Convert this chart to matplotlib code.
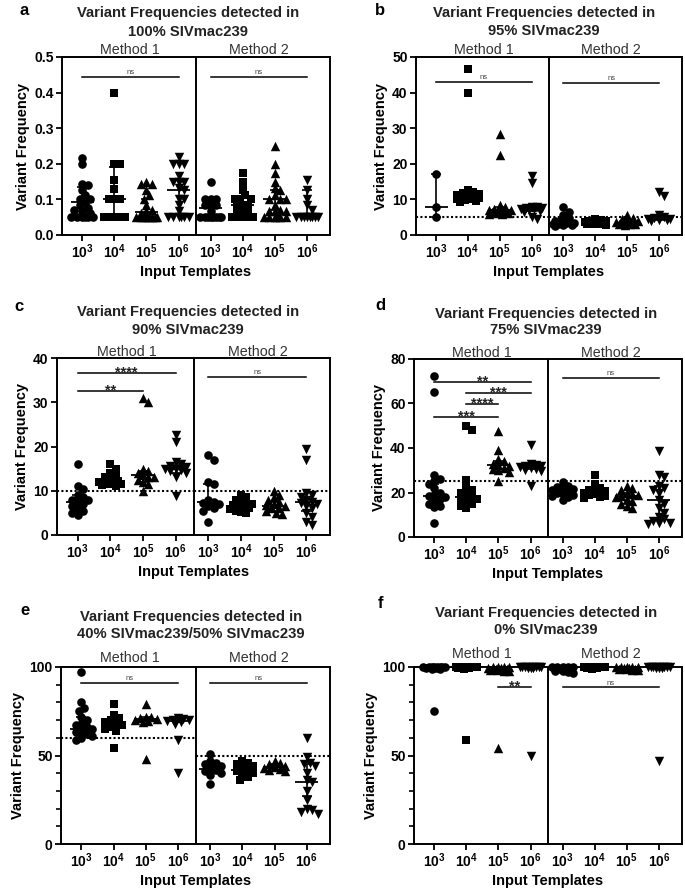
import numpy as np
import matplotlib.pyplot as plt

plt.rcParams['font.family'] = ['Liberation Sans', 'DejaVu Sans']
plt.rcParams['mathtext.fontset'] = 'custom'
plt.rcParams['mathtext.rm'] = 'Liberation Sans'
plt.rcParams['mathtext.bf'] = 'Liberation Sans:bold'

W, H = 685, 893

# x categories: input templates for Method 1 then Method 2
powers = [3, 4, 5, 6, 3, 4, 5, 6]
methods = ['Method 1', 'Method 2']
markers = ['o', 's', '^', 'v', 'o', 's', '^', 'v']

# ---- panel a: 100% SIVmac239
a_vals = [
    [0.217, 0.2, 0.143, 0.14, 0.125, 0.111, 0.1, 0.1, 0.091, 0.083, 0.077, 0.071, 0.067, 0.063, 0.05, 0.05, 0.05, 0.05, 0.05, 0.05],
    [0.4, 0.2, 0.2, 0.154, 0.13, 0.1, 0.1, 0.1, 0.05, 0.05, 0.05, 0.05, 0.05, 0.05, 0.05, 0.05],
    [0.15, 0.143, 0.143, 0.125, 0.111, 0.1, 0.083, 0.071, 0.067, 0.063, 0.05, 0.05, 0.05, 0.05, 0.05, 0.05, 0.05, 0.05],
    [0.22, 0.2, 0.2, 0.2, 0.167, 0.15, 0.15, 0.15, 0.133, 0.125, 0.1, 0.1, 0.083, 0.067, 0.05, 0.05, 0.05, 0.05, 0.05, 0.05],
    [0.15, 0.1, 0.1, 0.1, 0.083, 0.083, 0.083, 0.067, 0.05, 0.05, 0.05, 0.05, 0.05, 0.05, 0.05, 0.05],
    [0.175, 0.15, 0.125, 0.111, 0.1, 0.1, 0.1, 0.083, 0.083, 0.083, 0.067, 0.067, 0.067, 0.05, 0.05, 0.05, 0.05, 0.05, 0.05, 0.05],
    [0.25, 0.2, 0.175, 0.15, 0.133, 0.125, 0.111, 0.1, 0.1, 0.1, 0.083, 0.071, 0.067, 0.067, 0.067, 0.05, 0.05, 0.05, 0.05, 0.05, 0.05],
    [0.155, 0.125, 0.1, 0.083, 0.071, 0.05, 0.05, 0.05, 0.05, 0.05, 0.05, 0.05, 0.05],
]
a_mid = [0.093, 0.1, 0.065, 0.125, 0.075, 0.083, 0.1, 0.058]
a_lo = [0.05, 0.05, 0.05, 0.06, 0.05, 0.05, 0.07, 0.05]
a_hi = [0.135, 0.19, 0.1, 0.155, 0.1, 0.11, 0.125, 0.125]
a_sig = [(0, 3, 0.445, 'ns'), (4, 7, 0.445, 'ns')]
a_ref = [None, None]

# ---- panel b: 95% SIVmac239
b_vals = [
    [17, 8, 5],
    [46.5, 40, 12.5, 12.2, 11.8, 11.5, 11.2, 11, 10.8, 10.5, 10.3, 10, 10, 9.8, 9.5, 9.2],
    [28.5, 22.5, 8.5, 7.8, 7.3, 7, 7, 6.8, 6.7, 6.5, 6.3, 6.2, 6, 6],
    [16.5, 14.5, 8, 7.8, 7.6, 7.5, 7.3, 7.2, 7, 6.8, 6.5, 5, 4.5],
    [7.8, 6.5, 5.5, 4.8, 4, 3.8, 3.5, 3.3, 3, 3, 2.8, 2.8, 2.6],
    [4.5, 4.2, 4, 3.8, 3.6, 3.5, 3.4, 3.3, 3.2, 3, 3, 2.9],
    [5.5, 4.8, 4.5, 4, 3.8, 3.6, 3.5, 3.3, 3.2, 3, 3, 2.9],
    [12, 11, 5.5, 5, 4.8, 4.6, 4.5, 4.3, 4.2, 4],
]
b_mid = [8, 10.5, 7, 7.5, 3.5, 3.5, 3.5, 4.5]
b_lo = [5, 10, 6.3, 6.8, 3, 3.2, 3.2, 4.2]
b_hi = [17, 11.8, 7.8, 7.8, 4.8, 3.8, 4, 5]
b_sig = [(0, 3, 43, 'ns'), (4, 7, 42.8, 'ns')]
b_ref = [5, 5]

# ---- panel c: 90% SIVmac239
c_vals = [
    [16, 11, 10.5, 9, 8.5, 8, 7.8, 7.5, 7, 6.5, 6, 5.5, 5, 4.5],
    [16, 15, 14, 13.5, 13, 12.5, 12.3, 12, 12, 11.8, 11.5, 11.5, 11.2, 11],
    [31, 30, 15, 14.5, 14, 13.5, 13, 13, 12.5, 12, 11.5, 10],
    [22.5, 21, 16.5, 16, 15.5, 15.3, 15, 15, 14.8, 14.5, 14, 13, 8.8],
    [18, 17, 12, 11.5, 8, 7.5, 7.3, 7, 6.5, 6, 5.5, 3],
    [9, 8.5, 8, 7.5, 7.2, 7, 6.8, 6.5, 6.2, 6, 5.8, 5.5, 5.2, 5],
    [10, 9, 8.5, 8, 7.5, 7, 6.8, 6.5, 6.2, 6, 5.5, 5, 4.8],
    [19.5, 17, 9.5, 9, 8.5, 8, 7.5, 7.2, 7, 6.5, 6, 5, 4, 3, 2.3],
]
c_mid = [7.5, 12, 13.5, 15, 7.5, 6.5, 6.5, 7.5]
c_lo = [6, 11.5, 12, 14, 6.5, 6, 5.5, 5.5]
c_hi = [9, 13, 14.5, 16, 11.5, 7.5, 7.5, 8.5]
c_sig = [(0, 3, 36.5, '****'), (0, 2, 32.5, '**'), (4, 7, 35.8, 'ns')]
c_ref = [10, 10]

# ---- panel d: 75% SIVmac239
d_vals = [
    [72.5, 65, 28, 26, 25, 24, 22, 20, 19, 18.5, 18, 17, 16, 15, 14, 13.5, 6.5],
    [50, 48, 25.5, 22, 21, 20, 19, 18, 17.5, 17, 16, 15, 14, 13],
    [47.5, 39, 35, 34, 33, 32.5, 32, 31, 30.5, 30, 29, 25],
    [41.5, 33, 32.5, 32, 31.8, 31.5, 31, 30.5, 30, 29.5, 23],
    [24.5, 23, 22.5, 22, 21.5, 21, 20.5, 20, 19.5, 19, 18.5, 18, 16.5],
    [28, 24, 22, 21.5, 21, 20.5, 20, 20, 19.5, 19, 18.5, 18, 17.5],
    [23, 22, 21, 20, 19.5, 19, 18.5, 18, 17, 16, 15, 14, 13],
    [38.5, 28, 27, 23, 22, 21, 20, 16.5, 15, 13, 11, 9, 8, 7, 6.5, 6.5, 6],
]
d_mid = [18.5, 18, 32.5, 31.5, 21, 20.5, 18.5, 16.5]
d_lo = [15, 15, 30.5, 30.5, 19, 19.5, 15, 8.5]
d_hi = [24, 21, 34, 32.5, 22.5, 21.5, 20, 23]
d_sig = [(0, 3, 69.5, '**'), (1, 3, 64.7, '***'), (1, 2, 59.8, '****'),
         (0, 2, 53.8, '***'), (4, 7, 71.5, 'ns')]
d_ref = [25, 25]

# ---- panel e: 40% / 50% SIVmac239
e_vals = [
    [97, 80, 77, 75, 72, 70, 68, 67, 66, 65, 64, 63, 62, 61, 60, 59],
    [79, 73, 71, 70, 69, 68, 67, 66, 65, 64, 54],
    [79, 72, 71.5, 71, 70.5, 70, 69.5, 69, 48],
    [71, 70.5, 70, 70, 69.5, 69, 68, 59, 40],
    [51, 47, 46, 45, 44, 43, 42, 41, 40, 39, 34],
    [47, 46, 45, 44, 43, 42, 41, 40, 39, 38, 36],
    [47, 46, 45, 44, 43.5, 43, 42.5, 42, 41],
    [60, 49, 46, 45, 44, 40, 36, 35, 30, 25, 20, 19, 18, 17],
]
e_mid = [65, 68, 70.5, 69.5, 42.5, 42, 43.5, 35]
e_lo = [62, 65, 70, 69, 40, 40, 42, 27]
e_hi = [72, 70.5, 71.5, 70.5, 45, 44, 45, 45]
e_sig = [(0, 3, 91, 'ns'), (4, 7, 91, 'ns')]
e_ref = [60, 50]

# ---- panel f: 0% SIVmac239
f_vals = [
    [100, 100, 100, 100, 100, 100, 100, 99.8, 99.6, 99.4, 99.2, 99, 98.8, 75],
    [100, 100, 100, 100, 100, 100, 100, 99.8, 99.6, 99.4, 99.2, 99, 58.5],
    [100, 100, 100, 99.8, 99.5, 99.2, 99, 98.8, 98.5, 98.2, 98, 97.8, 54.5],
    [100, 100, 100, 100, 100, 100, 100, 100, 99.8, 99.6, 99.4, 99.2, 50],
    [100, 100, 100, 100, 100, 99.5, 99, 98.5, 98, 97.5, 97, 96.5],
    [100, 100, 100, 100, 100, 100, 100, 99.8, 99.6, 99.4, 99.2, 99],
    [100, 100, 100, 100, 99.8, 99.5, 99.2, 99, 98.8, 98.6, 98.4, 98.2],
    [100, 100, 100, 100, 100, 100, 100, 100, 99.8, 99.6, 99.4, 99.2, 47],
]
f_mid = [100, 100, 99.5, 100, 99.5, 100, 99.5, 100]
f_lo = f_mid
f_hi = f_mid
f_sig = [(2, 3, 88.5, '**'), (4, 7, 88.5, 'ns')]
f_ref = [None, None]

titles = ['100% SIVmac239', '95% SIVmac239', '90% SIVmac239',
          '75% SIVmac239', '40% SIVmac239/50% SIVmac239', '0% SIVmac239']

# layout in pixels: letter, (left, top, right, bottom), title baselines, method baseline
panels = [
    ('a', a_vals, a_mid, a_lo, a_hi, a_sig, a_ref, (0, 0.5), 0.1, None,
     (62, 57, 330, 235), (20, 15), 188, (17.5, 35.5), 54),
    ('b', b_vals, b_mid, b_lo, b_hi, b_sig, b_ref, (0, 50), 10, None,
     (416, 57, 682, 235), (375, 15), 544, (17.5, 35), 54),
    ('c', c_vals, c_mid, c_lo, c_hi, c_sig, c_ref, (0, 40), 10, None,
     (57, 358, 330, 535), (14, 311), 188, (316.5, 334), 356),
    ('d', d_vals, d_mid, d_lo, d_hi, d_sig, d_ref, (0, 80), 20, None,
     (414, 359, 682, 537), (375, 310), 546, (318, 333.5), 357),
    ('e', e_vals, e_mid, e_lo, e_hi, e_sig, e_ref, (0, 100), 50, 10,
     (61, 667, 330, 844), (20, 615), 191, (621.5, 637.5), 662.5),
    ('f', f_vals, f_mid, f_lo, f_hi, f_sig, f_ref, (0, 100), 50, 10,
     (414, 667, 682, 844), (378, 608), 546, (617, 633.5), 657.7),
]

XPOS = np.arange(8, dtype=float)
XLIM = (-0.63, 7.72)
MS = {'o': 6.2, 's': 5.6, '^': 6.8, 'v': 6.8}


def fx(px):
    return px / W


def fy(py):
    return 1 - py / H


def swarm(vals, ylim, h_px, unit_px, d=5.4, maxw=11.5):
    ys = (np.asarray(vals, float) - ylim[0]) / (ylim[1] - ylim[0]) * h_px
    cands = [0.0]
    k = 1
    while k * d / 2 <= maxw:
        cands += [k * d / 2, -k * d / 2]
        k += 1
    px_, py_ = [], []
    out = np.zeros(len(ys))
    for i in np.argsort(-ys):
        best, best_score = 0.0, -1.0
        for c in cands:
            if px_:
                dist = np.min(np.hypot(c - np.array(px_), ys[i] - np.array(py_)))
            else:
                dist = np.inf
            if dist >= d:
                best = c
                break
            if dist > best_score:
                best_score, best = dist, c
        out[i] = best
        px_.append(best)
        py_.append(ys[i])
    return out / unit_px


fig = plt.figure(figsize=(W / 100, H / 100), dpi=100)

for (letter, vals, mid, lo, hi, sig, ref, ylim, major, minor,
     box, lpos, tcx, tbase, mbase) in panels:
    l, t, r, b = box
    ax = fig.add_axes([fx(l), fy(b), fx(r) - fx(l), (b - t) / H])
    ax.set_xlim(*XLIM)
    ax.set_ylim(*ylim)
    unit_px = (r - l) / (XLIM[1] - XLIM[0])
    h_px = b - t

    for i, v in enumerate(vals):
        off = swarm(v, ylim, h_px, unit_px)
        m = markers[i]
        ax.scatter(XPOS[i] + off, v, marker=m, s=MS[m] ** 2, color='black',
                   linewidths=0, zorder=3, clip_on=False)
        # median line and whiskers
        ax.hlines(mid[i], XPOS[i] - 0.36, XPOS[i] + 0.36, color='black', lw=1.3, zorder=4)
        ax.vlines(XPOS[i], lo[i], hi[i], color='black', lw=1.2, zorder=4)
        ax.hlines([lo[i], hi[i]], XPOS[i] - 0.16, XPOS[i] + 0.16, color='black', lw=1.2, zorder=4)

    # method divider
    ax.axvline(3.55, color='black', lw=1.4, zorder=5)

    # dotted expected-frequency lines
    for k, val in enumerate(ref):
        if val is None:
            continue
        x0, x1 = (XLIM[0], 3.55) if k == 0 else (3.55, XLIM[1])
        ax.plot([x0, x1], [val, val], color='black', lw=1.5, ls=(0, (1, 1.1)), zorder=2)

    # significance brackets
    for g0, g1, y, lab in sig:
        ax.plot([XPOS[g0], XPOS[g1]], [y, y], color='black', lw=1.1, zorder=4)
        xm = (XPOS[g0] + XPOS[g1]) / 2
        if lab == 'ns':
            ax.annotate(lab, (xm, y), xytext=(0, 0.5), textcoords='offset points',
                        ha='center', va='bottom', fontsize=5.5, color='#444444')
        else:
            ax.annotate(lab, (xm, y), xytext=(0, -4.6), textcoords='offset points',
                        ha='center', va='bottom', fontsize=10.5, fontweight='bold',
                        color='#222222')

    for s in ax.spines.values():
        s.set_linewidth(1.4)
    ax.set_xticks(XPOS)
    ax.set_xticklabels([r'$\mathbf{10^{%d}}$' % p for p in powers], fontsize=9)
    ax.set_yticks(np.arange(ylim[0], ylim[1] + major / 2, major))
    if isinstance(major, float):
        ax.set_yticklabels(['%.1f' % v for v in np.arange(ylim[0], ylim[1] + major / 2, major)])
    if minor:
        ax.set_yticks(np.arange(ylim[0], ylim[1] + 1e-9, minor), minor=True)
        ax.tick_params(axis='y', which='minor', length=3.5, width=1.2)
    ax.tick_params(axis='both', which='major', direction='out', length=4, width=1.3,
                   labelsize=10, pad=2)
    ax.tick_params(axis='x', pad=1)
    for lab in ax.get_yticklabels():
        lab.set_fontweight('bold')
    ax.set_ylabel('Variant Frequency', fontsize=10.5, fontweight='bold', labelpad=3)
    ax.set_xlabel('Input Templates', fontsize=10.5, fontweight='bold', labelpad=3)

    # method labels
    for k, name in enumerate(methods):
        xm = (XPOS[4 * k] + XPOS[4 * k + 3]) / 2
        ax.annotate(name, (xm, 1), xycoords=('data', 'axes fraction'),
                    xytext=(0, (t - mbase) * 0.72), textcoords='offset points',
                    ha='center', va='baseline', fontsize=10.3, color='#333333')

    # titles and panel letter
    fig.text(fx(tcx), fy(tbase[0]), 'Variant Frequencies detected in', ha='center',
             va='baseline', fontsize=10.6, fontweight='bold', color='#222222')
    fig.text(fx(tcx), fy(tbase[1]), titles['abcdef'.index(letter)], ha='center',
             va='baseline', fontsize=10.6, fontweight='bold', color='#222222')
    fig.text(fx(lpos[0]), fy(lpos[1]), letter, ha='left', va='baseline',
             fontsize=12, fontweight='bold')

fig.savefig('out.png', dpi=100)
